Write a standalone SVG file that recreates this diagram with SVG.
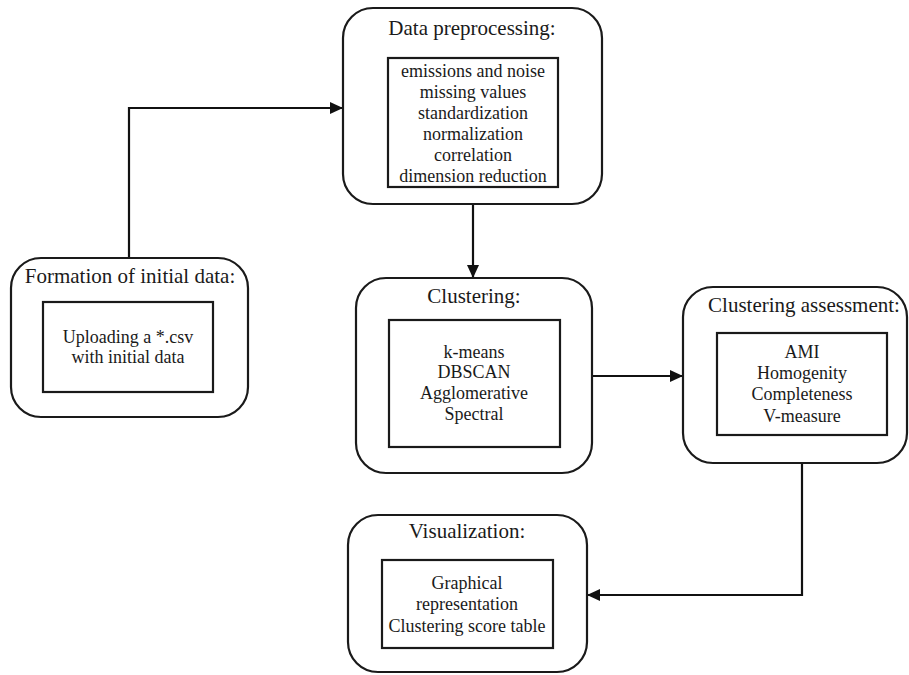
<svg xmlns="http://www.w3.org/2000/svg" width="909" height="675" viewBox="0 0 909 675">
<style>
.outer{fill:#fff;stroke:#1a1a1a;stroke-width:2.2}
.inner{fill:#fff;stroke:#1a1a1a;stroke-width:2.2}
.title{font-family:"Liberation Serif","Times New Roman",serif;font-size:21px;fill:#1a1a1a;text-anchor:middle}
.item{font-family:"Liberation Serif","Times New Roman",serif;font-size:18px;fill:#1a1a1a;text-anchor:middle}
.conn{fill:none;stroke:#111;stroke-width:2.2}
</style>
<defs>
<marker id="arr" markerUnits="userSpaceOnUse" markerWidth="13" markerHeight="12" viewBox="0 0 13 12" refX="13" refY="6" orient="auto">
<path d="M0,0 L13,6 L0,12 z" fill="#111"/>
</marker>
</defs>
<rect width="909" height="675" fill="#fff"/>
<g id="connectors">
<path class="conn" d="M129,258 V108 H343" marker-end="url(#arr)"/>
<path class="conn" d="M473,204 V278" marker-end="url(#arr)"/>
<path class="conn" d="M592,376 H683" marker-end="url(#arr)"/>
<path class="conn" d="M802,463 V595 H587" marker-end="url(#arr)"/>
</g>
<g id="preprocessing">
<rect class="outer" x="343" y="8" width="259" height="196" rx="30"/>
<text class="title" x="472" y="35">Data preprocessing:</text>
<rect class="inner" x="388" y="58" width="170" height="129"/>
<text class="item" x="473" y="77">emissions and noise</text>
<text class="item" x="473" y="98">missing values</text>
<text class="item" x="473" y="119">standardization</text>
<text class="item" x="473" y="140">normalization</text>
<text class="item" x="473" y="161">correlation</text>
<text class="item" x="473" y="182">dimension reduction</text>
</g>
<g id="formation">
<rect class="outer" x="11" y="258" width="237" height="159" rx="30"/>
<text class="title" x="130" y="283">Formation of initial data:</text>
<rect class="inner" x="43" y="302" width="170" height="90"/>
<text class="item" x="128" y="343">Uploading a *.csv</text>
<text class="item" x="128" y="363">with initial data</text>
</g>
<g id="clustering">
<rect class="outer" x="356" y="278" width="236" height="195" rx="30"/>
<text class="title" x="474" y="303">Clustering:</text>
<rect class="inner" x="389" y="320" width="171" height="127"/>
<text class="item" x="474" y="358">k-means</text>
<text class="item" x="474" y="378">DBSCAN</text>
<text class="item" x="474" y="399">Agglomerative</text>
<text class="item" x="474" y="420">Spectral</text>
</g>
<g id="assessment">
<rect class="outer" x="683" y="287" width="224" height="176" rx="30"/>
<text class="title" x="804" y="312">Clustering assessment:</text>
<rect class="inner" x="717" y="333" width="170" height="102"/>
<text class="item" x="802" y="358">AMI</text>
<text class="item" x="802" y="379">Homogenity</text>
<text class="item" x="802" y="400">Completeness</text>
<text class="item" x="802" y="422">V-measure</text>
</g>
<g id="visualization">
<rect class="outer" x="348" y="515" width="239" height="157" rx="30"/>
<text class="title" x="467" y="538">Visualization:</text>
<rect class="inner" x="382" y="560" width="171" height="88"/>
<text class="item" x="467" y="589">Graphical</text>
<text class="item" x="467" y="610">representation</text>
<text class="item" x="467" y="632">Clustering score table</text>
</g>
</svg>
